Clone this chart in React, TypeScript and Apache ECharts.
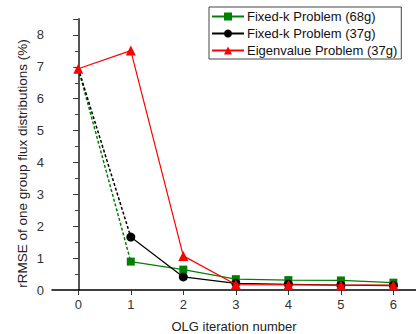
import React, { useEffect, useRef } from "react";
import * as echarts from "echarts";

const xTicks = [0, 1, 2, 3, 4, 5, 6];
const start = 6.95;
const fixed68 = [0.89, 0.64, 0.34, 0.31, 0.3, 0.23];
const fixed37 = [1.66, 0.41, 0.21, 0.18, 0.15, 0.14];
const eigen37 = [6.94, 7.51, 1.07, 0.17, 0.16, 0.15, 0.15];
const names = ["Fixed-k Problem (68g)", "Fixed-k Problem (37g)", "Eigenvalue Problem (37g)"];

export default function App() {
  const ref = useRef<HTMLDivElement>(null);
  useEffect(() => {
    const chart = echarts.init(ref.current!, null, { renderer: "svg" });
    const tail = (arr: number[]) => arr.map((v, i) => [xTicks[i + 1], v]);
    const font = "Liberation Sans, Arial, sans-serif";
    chart.setOption({
      animation: false,
      textStyle: { fontFamily: font },
      grid: { left: 52, right: 0, top: 19, bottom: 44, outerBoundsMode: "none" },
      legend: {
        data: names,
        orient: "vertical",
        left: 209,
        top: 7,
        itemGap: 4,
        itemWidth: 32,
        itemHeight: 10,
        padding: [3, 4, 2, 2],
        borderColor: "#444",
        borderWidth: 1,
        backgroundColor: "#fff",
        textStyle: { fontSize: 13, color: "#111", fontFamily: font, padding: [0, 0, 0, -2] },
      },
      xAxis: {
        type: "value",
        min: -0.5,
        max: 6.43,
        interval: 1,
        name: "OLG iteration number",
        nameLocation: "middle",
        nameGap: 30,
        nameMoveOverlap: false,
        nameTextStyle: { fontSize: 13, color: "#222" },
        axisLine: { onZero: false, lineStyle: { color: "#000", width: 1.5 } },
        axisTick: { show: true, length: 5, lineStyle: { color: "#333" }, customValues: xTicks },
        axisLabel: { fontSize: 13, color: "#333", margin: 8, customValues: xTicks },
        splitLine: { show: false },
      },
      yAxis: {
        type: "value",
        min: 0,
        max: 8.5,
        interval: 1,
        name: "rRMSE of one group flux distributions (%)",
        nameLocation: "middle",
        nameGap: 23,
        nameMoveOverlap: false,
        nameTextStyle: { fontSize: 13.5, color: "#222", padding: [0, 18, 0, 0] },
        axisLine: { lineStyle: { color: "#555", width: 2 } },
        axisTick: { length: 5, lineStyle: { color: "#333" } },
        minorTick: { show: true, splitNumber: 2, length: 3, lineStyle: { color: "#333" } },
        axisLabel: { fontSize: 13, color: "#333", margin: 8, showMaxLabel: false },
        splitLine: { show: false },
      },
      series: [
        {
          name: names[0] + "_d",
          type: "line",
          data: [[0, start], [1, fixed68[0]]],
          showSymbol: false,
          symbol: "none",
          lineStyle: { color: "#008000", width: 1.5, type: [3, 2] },
          z: 2,
        },
        {
          name: names[1] + "_d",
          type: "line",
          data: [[0, start], [1, fixed37[0]]],
          showSymbol: false,
          symbol: "none",
          lineStyle: { color: "#000", width: 1.5, type: [3, 2] },
          z: 2,
        },
        {
          name: names[0],
          type: "line",
          data: tail(fixed68),
          symbol: "rect",
          symbolSize: 8,
          itemStyle: { color: "#008000" },
          lineStyle: { color: "#008000", width: 1.2 },
          z: 3,
        },
        {
          name: names[1],
          type: "line",
          data: tail(fixed37),
          symbol: "circle",
          symbolSize: 9,
          itemStyle: { color: "#000" },
          lineStyle: { color: "#000", width: 1.2 },
          z: 4,
        },
        {
          name: names[2],
          type: "line",
          data: eigen37.map((v, i) => [xTicks[i], v]),
          symbol: "triangle",
          symbolSize: 10,
          itemStyle: { color: "#ff0000" },
          lineStyle: { color: "#ff0000", width: 1.2 },
          z: 5,
        },
      ],
    });
    return () => chart.dispose();
  }, []);
  return <div ref={ref} style={{ width: 416, height: 334, position: "absolute", left: 0, top: 0 }} />;
}
